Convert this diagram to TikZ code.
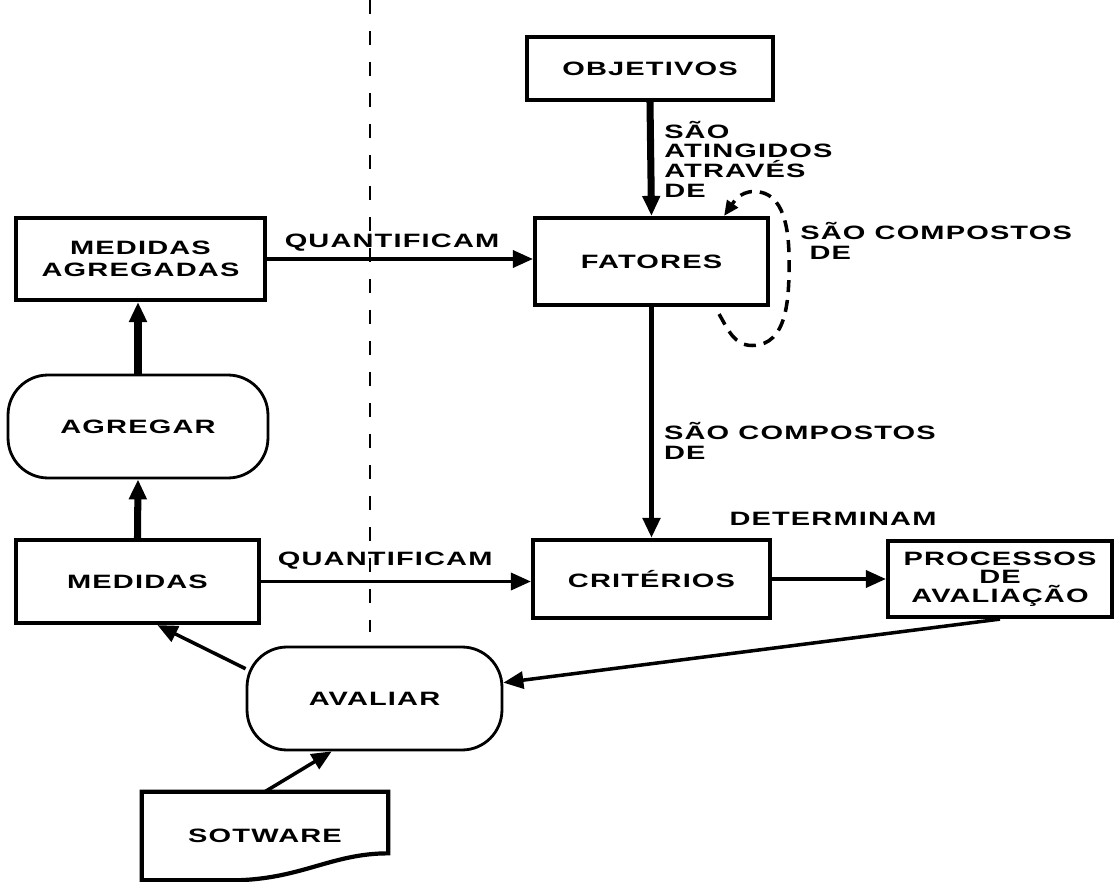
\documentclass[tikz,border=0pt]{standalone}
\usepackage{fontspec}
\newfontfamily\plotfont[FakeStretch=1.5,LetterSpace=6]{Liberation Sans}
\usetikzlibrary{arrows.meta,calc}
\tikzset{
  letra/.style={font=\plotfont\bfseries\fontsize{11}{12.5}\selectfont},
  caixa/.style={letra,draw,line width=2.4pt,align=center,inner sep=1pt},
  processo/.style={letra,draw,line width=1.6pt,rounded corners=0.8cm,inner sep=1pt},
  rotulo/.style={letra,inner sep=0pt},
  seta/.style={-{Triangle[length=4mm,width=3.4mm]},line width=2pt},
  setagrossa/.style={seta,line width=4pt},
  laco/.style={-{Triangle[length=3mm,width=2.6mm]},line width=2pt,dash pattern=on 0.24cm off 0.16cm},
  divisa/.style={line width=1.1pt,dash pattern=on 0.28cm off 0.34cm},
}
\begin{document}
\begin{tikzpicture}[x=0.02cm,y=-0.02cm]
\useasboundingbox (0,0) rectangle (1117,882);
% caixas
\node[caixa,minimum width=4.92cm,minimum height=1.26cm] (obj) at (650,68.5) {OBJETIVOS};
\node[caixa,minimum width=4.66cm,minimum height=1.74cm] (fat) at (651.5,261.5) {FATORES};
\node[caixa,minimum width=4.98cm,minimum height=1.64cm] (magr) at (140.5,259) {MEDIDAS\\AGREGADAS};
\node[processo,minimum width=5.2cm,minimum height=2.06cm] (agr) at (138,426.5) {AGREGAR};
\node[caixa,minimum width=4.86cm,minimum height=1.66cm] (med) at (137.5,581.5) {MEDIDAS};
\node[caixa,minimum width=4.74cm,minimum height=1.56cm] (crit) at (651.5,579) {CRITÉRIOS};
\node[caixa,minimum width=4.48cm,minimum height=1.52cm,font=\plotfont\bfseries\fontsize{11}{10.5}\selectfont] (proc) at (1000,579) {PROCESSOS\\DE\\AVALIAÇÃO};
\node[processo,minimum width=5.1cm,minimum height=2.06cm] (aval) at (374.5,698.5) {AVALIAR};
\node[letra,minimum width=4.92cm,minimum height=1.76cm] (soft) at (265,836) {SOTWARE};
\draw[line width=2.4pt] (soft.north west) -- (soft.north east) -- ($(soft.south east)+(0,-27)$)
  .. controls +(-58,0) and +(70,0) .. ($(soft.south)+(-35,0)$) -- (soft.south west) -- cycle;
% linha divisoria
\draw[divisa] (370,0) -- (370,632);
% ligacoes
\draw[setagrossa] (obj.south) -- node[rotulo,right=2mm,align=left,font=\plotfont\bfseries\fontsize{11}{11.2}\selectfont] {SÃO\\ATINGIDOS\\ATRAVÉS\\DE} (fat.north);
\draw[seta,line width=3pt] (fat.south) -- node[rotulo,right=2mm,pos=0.58,align=left,font=\plotfont\bfseries\fontsize{11}{11.4}\selectfont] {SÃO COMPOSTOS\\DE} (crit.north);
\draw[seta] (magr.east) -- node[rotulo,above=1.2mm,pos=0.47] {QUANTIFICAM} (magr.east -| fat.west);
\draw[seta] (med.east) -- node[rotulo,above=2mm,pos=0.46] {QUANTIFICAM} (med.east -| crit.west);
\draw[seta] (crit.east) -- (crit.east -| proc.west);
\node[rotulo] (det) at (833,519) {DETERMINAM};
\draw[setagrossa] (med.north) -- (agr.south);
\draw[setagrossa] (agr.north) -- (agr.north |- magr.south);
\draw[seta] (aval.167) -- ($(med.south)+(20,0)$);
\draw[seta] (soft.north) -- (aval.-129);
\draw[seta] (proc.south) -- (aval.7);
% laco de FATORES
\coordinate (lacoA) at ($(fat.south east)+(-51,7)$);
\coordinate (lacoB) at ($(fat.north east)+(-46,0)$);
\draw[laco] (lacoA) to[out=-60,in=180] ($(fat.east)+(-18,84)$) to[out=0,in=-90] ($(fat.east)+(19,0)$)
  to[out=90,in=0] ($(fat.east)+(-16,-70)$) to[out=180,in=55] (lacoB);
\node[rotulo,anchor=west,align=left,font=\plotfont\bfseries\fontsize{11}{11.4}\selectfont] (comp) at (800,241) {SÃO COMPOSTOS\\\ DE};
\end{tikzpicture}
\end{document}
